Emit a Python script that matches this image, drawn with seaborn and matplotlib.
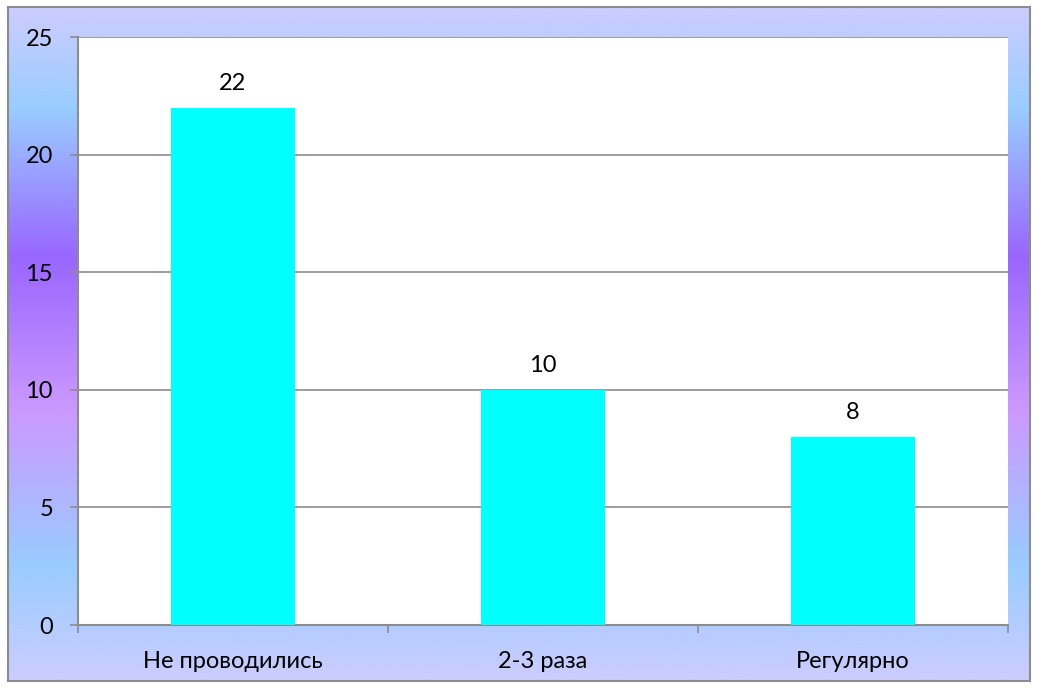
import numpy as np
import pandas as pd
import matplotlib
matplotlib.use("Agg")
import matplotlib.pyplot as plt
import seaborn as sns
from matplotlib.colors import LinearSegmentedColormap

categories = ["Не проводились", "2-3 раза", "Регулярно"]
values = [22, 10, 8]
yticks = [0, 5, 10, 15, 20, 25]

df = pd.DataFrame({"cat": categories, "val": values})

sns.set_theme(style="white")
plt.rcParams["font.family"] = ["Lato", "DejaVu Sans"]
fs = 17

W, H = 1037, 688
fig = plt.figure(figsize=(W / 100, H / 100), dpi=100)
fig.patch.set_facecolor("white")

# gradient background
bg = fig.add_axes([8 / W, (H - 681) / H, (1030 - 8) / W, (681 - 7) / H], zorder=0)
cmap = LinearSegmentedColormap.from_list("bg", [
    (0.0, "#CCCCFF"), (0.15, "#99CCFF"), (0.37, "#9966FF"),
    (0.6, "#CC99FF"), (0.83, "#99CCFF"), (1.0, "#CCCCFF")])
bg.imshow(np.linspace(0, 1, 400).reshape(-1, 1), aspect="auto", cmap=cmap,
          extent=[0, 1, 0, 1], origin="upper")
bg.set_xticks([]); bg.set_yticks([])
for s in bg.spines.values():
    s.set_color("#8c8c8c")
    s.set_linewidth(1.5)

ax = fig.add_axes([78 / W, (H - 625) / H, 930 / W, 588 / H], zorder=1)
ax.set_facecolor("white")
sns.barplot(data=df, x="cat", y="val", color="#00FFFF", saturation=1,
            width=0.4, linewidth=0, ax=ax, zorder=3)
ax.set_xlim(-0.5, 2.5)
ax.set_ylim(0, 25)
ax.set_yticks(yticks)
ax.set_yticklabels([str(t) for t in yticks], fontsize=fs, color="black")
ax.yaxis.grid(True, color="#8c8c8c", linewidth=1.2, zorder=0)
ax.set_axisbelow(True)
ax.set_xlabel("")
ax.set_ylabel("")

for s in ["top", "right"]:
    ax.spines[s].set_visible(False)
for s in ["left", "bottom"]:
    ax.spines[s].set_color("#8c8c8c")
    ax.spines[s].set_linewidth(1.5)

ax.tick_params(axis="y", which="major", left=True, length=6, width=1.2,
               color="#8c8c8c", pad=12)
ax.tick_params(axis="x", which="major", bottom=False, length=0, pad=19,
               labelsize=fs, labelcolor="black")
ax.set_xticks([-0.5, 0.5, 1.5, 2.5], minor=True)
ax.tick_params(axis="x", which="minor", bottom=True, length=6, width=1.2,
               color="#8c8c8c")

for c in ax.containers:
    ax.bar_label(c, labels=[str(v) for v in values], padding=10,
                 fontsize=fs, color="black")

fig.savefig("out.png", dpi=100)
